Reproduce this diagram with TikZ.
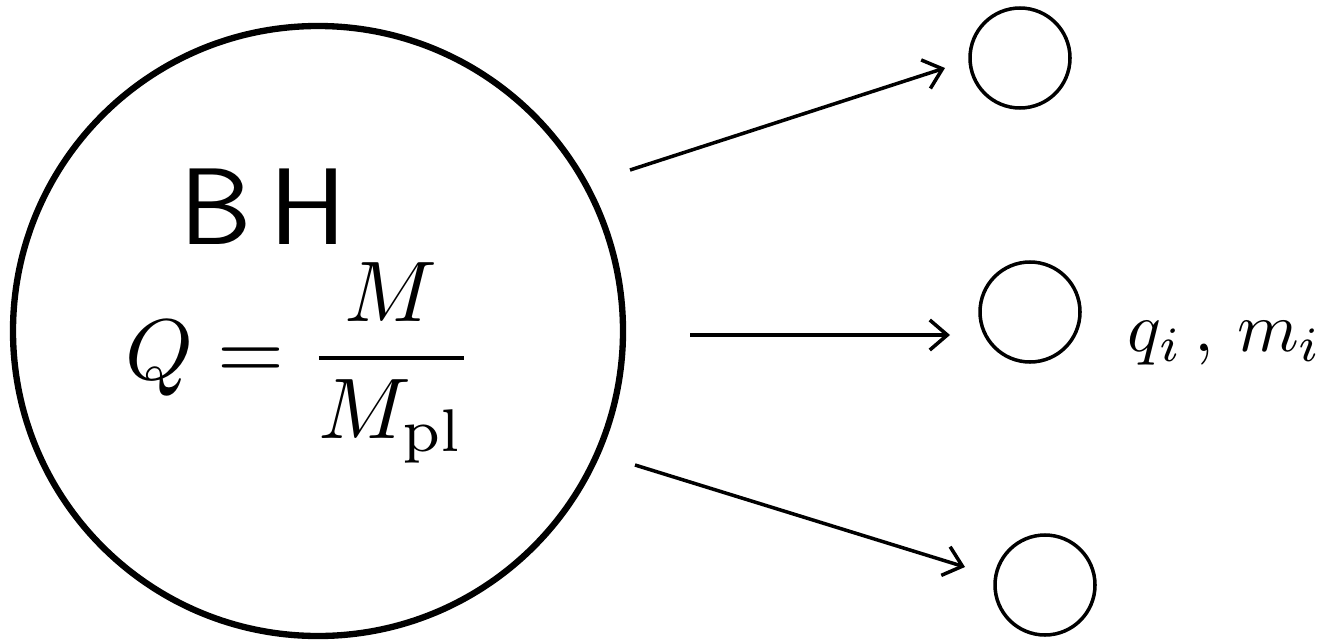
\documentclass[tikz,border=0pt]{standalone}
\usepackage{tikz}
\usetikzlibrary{arrows.meta, positioning}
\usepackage{amsmath}

\begin{document}
\begin{tikzpicture}[
    hole/.style={circle, draw, line width=3.6pt, minimum size=12.2cm, inner sep=0pt},
    particle/.style={circle, draw, line width=2pt, minimum size=2.0cm, inner sep=0pt},
    arrow/.style={-{Straight Barb[length=3.5mm, width=6mm, line width=2pt]}, line width=2pt}
]
    \useasboundingbox (0,0) rectangle (26.62,12.86);
    \node[hole] (bh) at (6.36,6.24) {};
    \node[scale=6.2, font=\sffamily] (name) at (5.26,8.72) {B\,H};
    \node[scale=4.9] (charge) at (6.0,5.6) {$Q=\dfrac{M}{M_{\mathrm{pl}}}$};
    \node[particle] (p1) at (20.4,11.7) {};
    \node[particle] (p2) at (20.6,6.62) {};
    \node[particle] (p3) at (20.9,1.16) {};
    \node[scale=4] (label) at (24.5,6.0) {$q_i\,,\,m_i$};
    % arrow ends
    \coordinate (t1) at (12.6,9.46); \coordinate (h1) at (18.9,11.5);
    \coordinate (t2) at (13.8,6.16); \coordinate (h2) at (19.0,6.16);
    \coordinate (t3) at (12.7,3.56); \coordinate (h3) at (19.3,1.52);
    \draw[arrow] (t1) -- (h1); \draw[arrow] (t2) -- (h2);
    \draw[arrow] (t3) -- (h3);
\end{tikzpicture}
\end{document}
